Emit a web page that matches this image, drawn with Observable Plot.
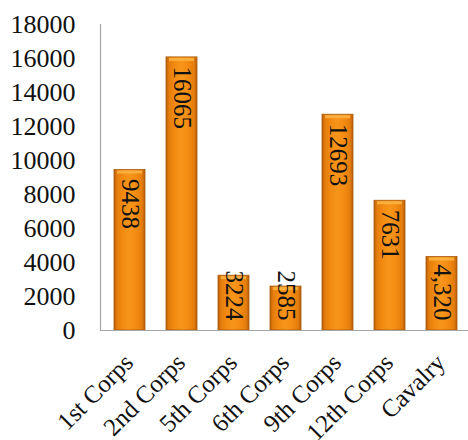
<!DOCTYPE html>
<html>
<head>
<meta charset="utf-8">
<script src="https://cdn.jsdelivr.net/npm/d3@7"></script>
<script src="https://cdn.jsdelivr.net/npm/@observablehq/plot@0.6"></script>
<style>
  html, body { margin: 0; padding: 0; background: #fff; }
  #chart svg { display: block; }
</style>
</head>
<body>
<div id="chart"></div>
<script>
// Union army strength by corps
const corps = ["1st Corps", "2nd Corps", "5th Corps", "6th Corps", "9th Corps", "12th Corps", "Cavalry"];
const strength = [9438, 16065, 3224, 2585, 12693, 7631, 4320];
const valueLabels = ["9438", "16065", "3224", "2585", "12693", "7631", "4,320"];
const yTicks = [0, 2000, 4000, 6000, 8000, 10000, 12000, 14000, 16000, 18000];

const rows = corps.map((c, i) => ({corps: c, value: strength[i], label: valueLabels[i]}));
// short bars get their label pinned to the base, tall ones to the top
const tall = rows.filter(d => d.value >= 5000);
const short = rows.filter(d => d.value < 5000);

const font = "Liberation Serif, Times New Roman, serif";
const axisGray = "#a6a6a6";

const chart = Plot.plot({
  width: 468,
  height: 440,
  marginLeft: 100,
  marginRight: -2,
  marginTop: 24,
  marginBottom: 110,
  style: {fontFamily: font, fontSize: "25px", color: "#111", background: "#fff"},
  x: {domain: corps, paddingInner: 0.41, paddingOuter: 0.205, label: null},
  y: {domain: [0, 18000], label: null},
  marks: [
    Plot.axisY({ticks: yTicks, tickSize: 0, tickPadding: 25, tickFormat: d => String(d), fontSize: 26, label: null}),
    Plot.axisX({tickSize: 0, tickPadding: 28, dx: -1, tickRotate: -45, fontSize: 25, label: null}),
    Plot.barY(rows, {x: "corps", y: "value", fill: "url(#barFill)", stroke: "#a9590a", strokeWidth: 0.8}),
    Plot.tickY(rows, {x: "corps", y: "value", stroke: "#fbb547", strokeWidth: 3, dy: 2, inset: 3, strokeOpacity: 0.85}),
    Plot.text(tall, {x: "corps", y: "value", text: "label", rotate: 90, textAnchor: "start", dy: 9, fontSize: 25, fill: "#111"}),
    Plot.text(short, {x: "corps", y: 0, text: "label", rotate: 90, textAnchor: "end", dy: -10, fontSize: 25, fill: "#111"}),
    Plot.frame({anchor: "left", stroke: axisGray, strokeWidth: 1.2}),
    Plot.ruleY([0], {stroke: axisGray, strokeWidth: 1.2})
  ]
});

// horizontal gradient giving the bars their rounded orange look
const svg = d3.select(chart);
const grad = svg.insert("defs", ":first-child")
  .append("linearGradient")
  .attr("id", "barFill")
  .attr("x1", 0).attr("x2", 1).attr("y1", 0).attr("y2", 0);
[[0, "#b8600b"], [0.1, "#e57d0c"], [0.3, "#f48c12"], [0.5, "#f7951a"], [0.7, "#f48c12"], [0.9, "#e57d0c"], [1, "#b8600b"]]
  .forEach(([o, c]) => grad.append("stop").attr("offset", o).attr("stop-color", c));

document.getElementById("chart").appendChild(chart);
</script>
</body>
</html>
